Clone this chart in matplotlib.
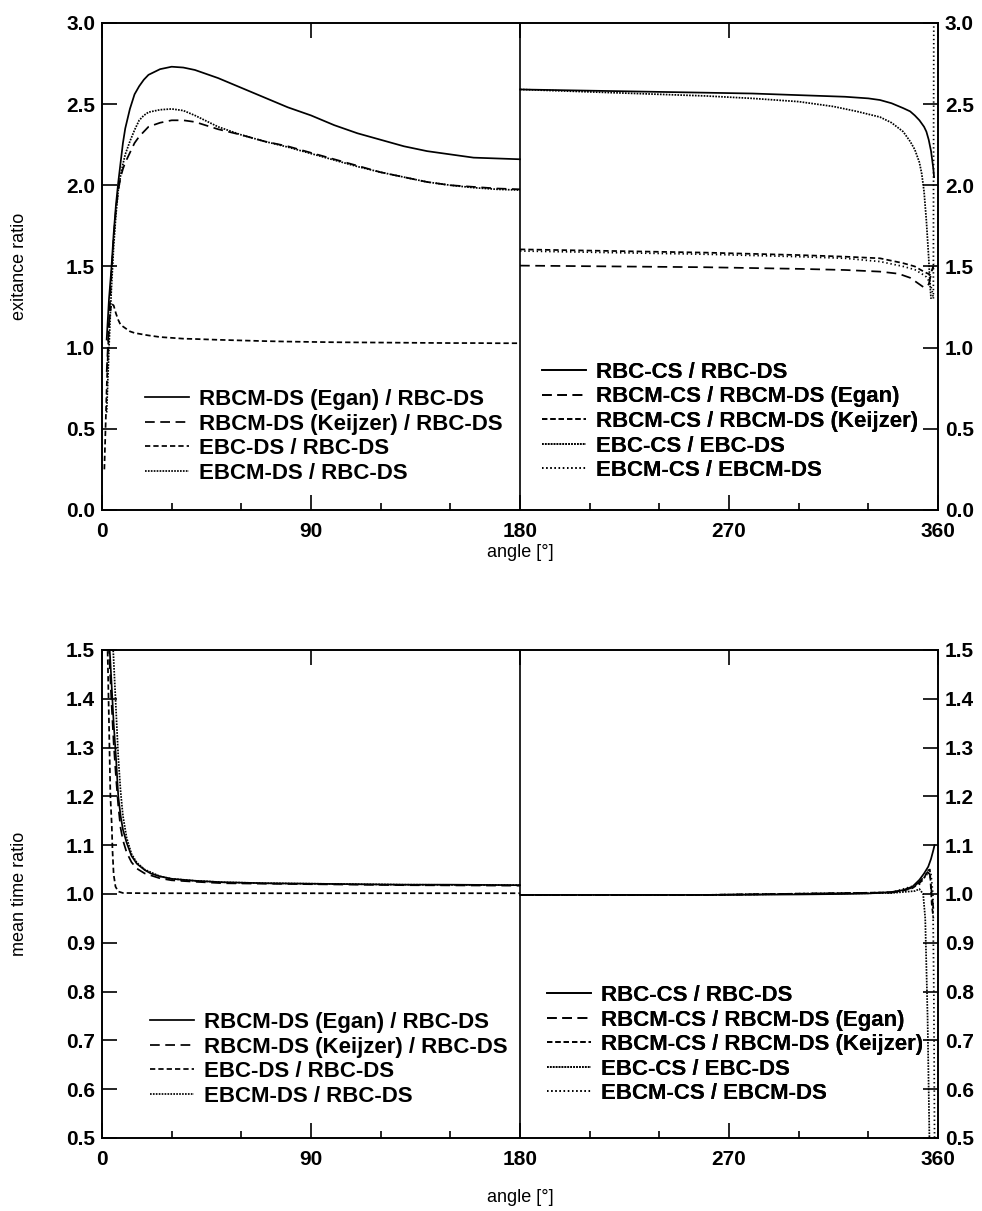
import matplotlib
matplotlib.use("Agg")
import matplotlib.pyplot as plt
from matplotlib.ticker import FixedLocator

plt.rcParams['font.family'] = ['Liberation Sans', 'DejaVu Sans']
plt.rcParams['lines.scale_dashes'] = False

# ---------------- data: exitance ratio (top) ----------------
ds_ang = [2, 3, 4, 5, 6, 7, 8, 9, 10, 12, 14, 16, 18, 20, 25, 30, 35, 40,
          50, 60, 70, 80, 90, 100, 110, 120, 130, 140, 150, 160, 170, 180]
ex_rbcm_egan = [1.05, 1.30, 1.48, 1.70, 1.88, 2.02, 2.14, 2.26, 2.35, 2.47, 2.56, 2.61,
                2.65, 2.68, 2.715, 2.73, 2.725, 2.71, 2.66, 2.60, 2.54, 2.48, 2.43,
                2.37, 2.32, 2.28, 2.24, 2.21, 2.19, 2.17, 2.165, 2.16]
ex_rbcm_keij = [0.85, 1.15, 1.45, 1.68, 1.85, 1.97, 2.05, 2.10, 2.14, 2.20, 2.26, 2.30,
                2.33, 2.36, 2.385, 2.40, 2.40, 2.39, 2.345, 2.31, 2.27, 2.24, 2.20,
                2.16, 2.12, 2.08, 2.05, 2.02, 2.00, 1.99, 1.98, 1.975]
ex_ebcm = [0.60, 1.00, 1.35, 1.62, 1.82, 1.97, 2.06, 2.13, 2.19, 2.27, 2.34, 2.40,
           2.43, 2.45, 2.465, 2.47, 2.46, 2.43, 2.36, 2.31, 2.27, 2.235, 2.195,
           2.155, 2.115, 2.08, 2.05, 2.02, 2.00, 1.985, 1.975, 1.97]
ebc_ang = [1, 2, 3, 4, 5, 6, 7, 8, 9, 10, 12, 14, 16, 18, 20, 25, 30, 35, 40,
           50, 60, 70, 80, 90, 100, 110, 120, 130, 140, 150, 160, 170, 180]
ex_ebc = [0.25, 0.75, 1.15, 1.27, 1.26, 1.21, 1.17, 1.14, 1.13, 1.12, 1.10, 1.09,
          1.085, 1.08, 1.075, 1.065, 1.06, 1.055, 1.053, 1.048, 1.044, 1.04, 1.037,
          1.035, 1.033, 1.032, 1.031, 1.03, 1.029, 1.028, 1.028, 1.027, 1.027]

cs_ang_rbc = [180, 200, 220, 240, 260, 280, 300, 320, 330, 335, 340, 345, 348,
              350, 352, 354, 355, 356, 357, 358, 358.3]
ex_rbc_cs = [2.59, 2.585, 2.58, 2.575, 2.57, 2.565, 2.555, 2.545, 2.535, 2.525,
             2.505, 2.475, 2.455, 2.43, 2.40, 2.36, 2.33, 2.28, 2.21, 2.10, 2.05]
cs_ang_ebc = [180, 200, 220, 240, 260, 280, 300, 315, 325, 335, 340, 345, 348,
              350, 352, 353, 354, 355, 356, 356.5, 357]
ex_ebc_cs = [2.59, 2.58, 2.57, 2.56, 2.55, 2.535, 2.515, 2.485, 2.455, 2.42, 2.385,
             2.33, 2.27, 2.22, 2.14, 2.07, 1.96, 1.78, 1.55, 1.40, 1.30]
cs_ang_egan = [180, 220, 260, 300, 320, 335, 343, 348, 351, 354, 356, 357, 358]
ex_rbcm_cs_egan = [1.505, 1.50, 1.495, 1.485, 1.478, 1.468, 1.455, 1.43, 1.40,
                   1.37, 1.39, 1.45, 1.50]
cs_ang_keij = [180, 220, 260, 300, 320, 335, 345, 350, 353, 355, 356.5, 357.5, 358.3]
ex_rbcm_cs_keij = [1.605, 1.595, 1.585, 1.57, 1.56, 1.55, 1.52, 1.50, 1.475, 1.46,
                   1.45, 1.48, 1.52]
cs_ang_ebcm = [180, 220, 260, 300, 320, 335, 345, 350, 353, 355, 356.5, 357.5, 358,
               358.2, 359]
ex_ebcm_cs = [1.595, 1.585, 1.575, 1.56, 1.55, 1.53, 1.50, 1.48, 1.455, 1.435,
              1.40, 1.35, 1.30, 3.2, 3.5]

# ---------------- data: mean time ratio (bottom) ----------------
mt_ang_egan = [2, 3.3, 4, 5, 6, 7, 8, 9, 10.6, 12.7, 15, 18.4, 21, 25, 30, 40, 52,
               70, 90, 109, 130, 150, 180]
mt_rbcm_egan = [1.70, 1.50, 1.44, 1.35, 1.28, 1.20, 1.16, 1.132, 1.105, 1.078, 1.062,
                1.049, 1.042, 1.036, 1.031, 1.027, 1.024, 1.022, 1.021, 1.020,
                1.019, 1.019, 1.018]
mt_ang_keij = [2, 3, 4, 5, 6, 7, 8, 9, 10.6, 12.7, 15, 18.4, 25, 30, 40, 52, 70, 90,
               130, 180]
mt_rbcm_keij = [1.70, 1.50, 1.40, 1.31, 1.24, 1.18, 1.135, 1.11, 1.085, 1.065, 1.052,
                1.042, 1.032, 1.028, 1.025, 1.022, 1.021, 1.020, 1.018, 1.017]
mt_ang_ebc = [2, 3, 3.6, 4.2, 4.5, 5, 5.8, 7, 9, 20, 60, 120, 180]
mt_ebc = [1.60, 1.35, 1.20, 1.14, 1.09, 1.04, 1.015, 1.005, 1.002, 1.0015, 1.0015,
          1.0015, 1.0015]
mt_ang_ebcm = [3, 4.8, 6, 7, 8, 9, 10.6, 12.7, 15, 18.4, 25, 30, 40, 52, 70, 90, 130, 180]
mt_ebcm = [1.60, 1.50, 1.38, 1.28, 1.21, 1.16, 1.115, 1.082, 1.064, 1.05, 1.036,
           1.031, 1.027, 1.024, 1.022, 1.021, 1.019, 1.018]

mt_cs_ang_rbc = [180, 220, 260, 300, 320, 330, 340, 345, 349, 352, 354, 355.8, 357,
                 358, 358.5]
mt_rbc_cs = [0.998, 0.998, 0.998, 0.999, 1.0, 1.001, 1.004, 1.008, 1.015, 1.029,
             1.042, 1.056, 1.072, 1.09, 1.10]
mt_cs_ang_egan = [180, 260, 340, 345, 349, 352, 354, 355.5, 356.5, 357.3, 358]
mt_rbcm_cs_egan = [0.998, 0.998, 1.003, 1.007, 1.013, 1.025, 1.035, 1.045, 1.04,
                   1.0, 0.97]
mt_cs_ang_keij = [180, 260, 340, 345, 349, 352, 354, 355.5, 356.5, 357.3, 358]
mt_rbcm_cs_keij = [0.998, 0.998, 1.003, 1.007, 1.012, 1.022, 1.032, 1.048, 1.05,
                   0.98, 0.95]
mt_cs_ang_ebc = [180, 260, 340, 350, 352, 353.6, 354.5, 355.5, 356.3, 356.6]
mt_ebc_cs = [0.998, 0.998, 1.002, 1.006, 1.01, 1.0, 0.95, 0.75, 0.5, 0.4]
mt_cs_ang_ebcm = [180, 260, 340, 352, 355, 357, 357.8, 358.2, 358.5, 358.6]
mt_ebcm_cs = [0.998, 0.998, 1.003, 1.02, 1.04, 1.04, 1.0, 0.8, 0.5, 0.4]

left_labels = ['RBCM-DS (Egan) / RBC-DS', 'RBCM-DS (Keijzer) / RBC-DS',
               'EBC-DS / RBC-DS', 'EBCM-DS / RBC-DS']
right_labels = ['RBC-CS / RBC-DS', 'RBCM-CS / RBCM-DS (Egan)',
                'RBCM-CS / RBCM-DS (Keijzer)', 'EBC-CS / EBC-DS', 'EBCM-CS / EBCM-DS']

# line styles
SOLID = dict(ls='-')
LONG = dict(dashes=(7, 4))
SHORT = dict(dashes=(3.8, 2.2))
FINE = dict(dashes=(1.2, 0.9))
DOTS = dict(dashes=(1.0, 2.0))
LW = 1.25

fig = plt.figure(figsize=(9.82, 12.11), dpi=100)
ax1 = fig.add_axes([0.1039, 0.5789, 0.8513, 0.4022])
ax2 = fig.add_axes([0.1039, 0.0603, 0.8513, 0.4030])


def style_axes(ax, yticks, ylim, ylabel, xlabel_y):
    ax.set_xlim(0, 360)
    ax.set_ylim(*ylim)
    ax.axvline(180, color='black', lw=1.2, zorder=1)
    ax.xaxis.set_major_locator(FixedLocator([0, 90, 180, 270, 360]))
    ax.xaxis.set_minor_locator(FixedLocator([30, 60, 120, 150, 210, 240, 300, 330]))
    ax.set_yticks(yticks)
    ax.set_yticklabels([f"{v:.1f}" for v in yticks])
    ax.tick_params(axis='x', which='major', direction='in', length=11, width=1.2,
                   top=True, pad=9, labelsize=15)
    ax.tick_params(axis='x', which='minor', direction='in', length=5, width=1.2,
                   top=False)
    ax.tick_params(axis='y', which='major', direction='in', length=11, width=1.2,
                   left=True, right=True, labelleft=True, labelright=True,
                   pad=5, labelsize=15)
    for lab in ax.get_xticklabels() + ax.get_yticklabels():
        lab.set_fontweight('bold')
    for s in ax.spines.values():
        s.set_linewidth(1.4)
    ax.set_ylabel(ylabel, fontsize=13)
    ax.yaxis.set_label_coords(-0.088, 0.5)
    ax.set_xlabel('angle [°]', fontsize=13)
    ax.xaxis.set_label_coords(0.5, xlabel_y)


def add_legend(ax, handles, labels, x, y):
    leg = ax.legend(handles, labels, loc='upper left', bbox_to_anchor=(x, y),
                    frameon=False, handlelength=2.0, handletextpad=0.45,
                    labelspacing=0.16, borderpad=0, borderaxespad=0,
                    prop=dict(weight='bold', size=16))
    ax.add_artist(leg)


# top panel
k = dict(color='black', lw=LW)
h1 = [ax1.plot(ds_ang, ex_rbcm_egan, **SOLID, **k)[0],
      ax1.plot(ds_ang, ex_rbcm_keij, **LONG, **k)[0],
      ax1.plot(ebc_ang, ex_ebc, **SHORT, **k)[0],
      ax1.plot(ds_ang, ex_ebcm, **FINE, **k)[0]]
h2 = [ax1.plot(cs_ang_rbc, ex_rbc_cs, **SOLID, **k)[0],
      ax1.plot(cs_ang_egan, ex_rbcm_cs_egan, **LONG, **k)[0],
      ax1.plot(cs_ang_keij, ex_rbcm_cs_keij, **SHORT, **k)[0],
      ax1.plot(cs_ang_ebc, ex_ebc_cs, **FINE, **k)[0],
      ax1.plot(cs_ang_ebcm, ex_ebcm_cs, **DOTS, **k)[0]]
style_axes(ax1, [0.0, 0.5, 1.0, 1.5, 2.0, 2.5, 3.0], (0, 3), 'exitance ratio', -0.07)
add_legend(ax1, h1, left_labels, 0.051, 0.248)
add_legend(ax1, h2, right_labels, 0.526, 0.304)

# bottom panel
h3 = [ax2.plot(mt_ang_egan, mt_rbcm_egan, **SOLID, **k)[0],
      ax2.plot(mt_ang_keij, mt_rbcm_keij, **LONG, **k)[0],
      ax2.plot(mt_ang_ebc, mt_ebc, **SHORT, **k)[0],
      ax2.plot(mt_ang_ebcm, mt_ebcm, **FINE, **k)[0]]
h4 = [ax2.plot(mt_cs_ang_rbc, mt_rbc_cs, **SOLID, **k)[0],
      ax2.plot(mt_cs_ang_egan, mt_rbcm_cs_egan, **LONG, **k)[0],
      ax2.plot(mt_cs_ang_keij, mt_rbcm_cs_keij, **SHORT, **k)[0],
      ax2.plot(mt_cs_ang_ebc, mt_ebc_cs, **FINE, **k)[0],
      ax2.plot(mt_cs_ang_ebcm, mt_ebcm_cs, **DOTS, **k)[0]]
style_axes(ax2, [0.5, 0.6, 0.7, 0.8, 0.9, 1.0, 1.1, 1.2, 1.3, 1.4, 1.5], (0.5, 1.5),
           'mean time ratio', -0.105)
add_legend(ax2, h3, left_labels, 0.057, 0.258)
add_legend(ax2, h4, right_labels, 0.532, 0.3135)

fig.savefig('out.png', dpi=100)
